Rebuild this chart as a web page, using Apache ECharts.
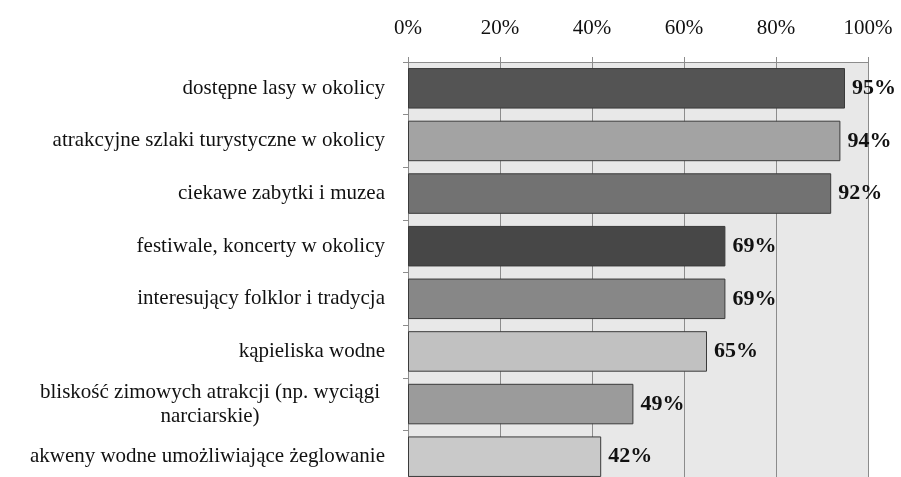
<!DOCTYPE html>
<html>
<head>
<meta charset="utf-8">
<script src="https://cdn.jsdelivr.net/npm/echarts@6/dist/echarts.min.js"></script>
<style>
  html, body { margin: 0; padding: 0; background: #fff; }
  #main { width: 901px; height: 477px; }
</style>
</head>
<body>
<div id="main"></div>
<script>
var categories = [
  'dostępne lasy w okolicy',
  'atrakcyjne szlaki turystyczne w okolicy',
  'ciekawe zabytki i muzea',
  'festiwale, koncerty w okolicy',
  'interesujący folklor i tradycja',
  'kąpieliska wodne',
  'bliskość zimowych atrakcji (np. wyciągi\nnarciarskie)',
  'akweny wodne umożliwiające żeglowanie'
];
var values = [95, 94, 92, 69, 69, 65, 49, 42];
var barColors = ['#545454', '#a3a3a3', '#727272', '#474747', '#878787', '#c1c1c1', '#9b9b9b', '#c9c9c9'];

var chart = echarts.init(document.getElementById('main'));
var serif = '"Liberation Serif", "DejaVu Serif", serif';

var option = {
  animation: false,
  textStyle: { fontFamily: serif },
  grid: { left: 408, right: 33, top: 62, height: 421, containLabel: false,
          outerBoundsMode: 'none',
          show: true, backgroundColor: '#e8e8e8', borderWidth: 0 },
  xAxis: {
    type: 'value',
    position: 'top',
    min: 0, max: 100, interval: 20,
    axisLine: { show: true, lineStyle: { color: '#8c8c8c', width: 1 } },
    axisTick: { show: true, length: 5, lineStyle: { color: '#8c8c8c' } },
    splitLine: { show: true, lineStyle: { color: '#8c8c8c', width: 1 } },
    axisLabel: { formatter: '{value}%', fontSize: 21, color: '#111', margin: 23, fontFamily: serif }
  },
  yAxis: {
    type: 'category',
    inverse: true,
    data: categories,
    axisLine: { show: true, lineStyle: { color: '#8c8c8c', width: 1 } },
    axisTick: { show: true, length: 5, lineStyle: { color: '#8c8c8c' } },
    axisLabel: {
      fontSize: 21, color: '#111', margin: 23, fontFamily: serif,
      formatter: function (v) {
        if (v.indexOf('\n') >= 0) return '{c|' + v + '}';
        return v;
      },
      rich: { c: { align: 'center', width: 350, fontSize: 21, lineHeight: 24, fontFamily: serif, color: '#111' } }
    }
  },
  series: [{
    type: 'bar',
    barCategoryGap: '23%',
    data: values.map(function (v, i) {
      return { value: v, itemStyle: { color: barColors[i], borderColor: '#3a3a3a', borderWidth: 1 } };
    }),
    label: {
      show: true, position: 'right', distance: 7,
      formatter: '{c}%', fontSize: 22, fontWeight: 'bold', color: '#111', fontFamily: serif
    }
  }]
};
chart.setOption(option);
</script>
</body>
</html>
